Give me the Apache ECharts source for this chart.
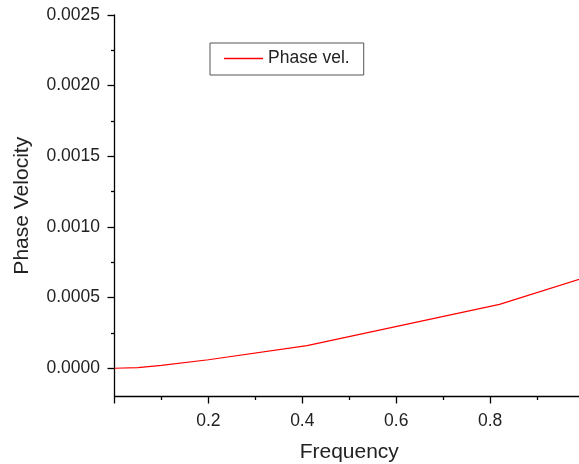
<!DOCTYPE html>
<html>
<head>
<meta charset="utf-8">
<script src="https://cdn.jsdelivr.net/npm/echarts@6/dist/echarts.min.js"></script>
<style>
  html, body { margin: 0; padding: 0; background: #fff; }
  #main { width: 579px; height: 464px; }
</style>
</head>
<body>
<div id="main"></div>
<script>
// 频率 / 相速度数据
var frequency = [0, 0.05, 0.1, 0.2, 0.41, 0.82, 1.0];
var phaseVel = [0, 0.000005, 0.00002, 0.00006, 0.00016, 0.000452, 0.00064];
var yMajorTicks = [0, 0.0005, 0.001, 0.0015, 0.002, 0.0025];
var yMinorTicks = [0.00025, 0.00075, 0.00125, 0.00175, 0.00225];

var chart = echarts.init(document.getElementById('main'));
var textColor = '#222';
var axisColor = '#000';

chart.setOption({
  animation: false,
  textStyle: { fontFamily: 'Liberation Sans, Arial, sans-serif' },
  grid: { left: 114.5, right: -5, top: 15, bottom: 67.5, outerBoundsMode: 'none', containLabel: false },
  legend: {
    left: 210,
    top: 43,
    orient: 'horizontal',
    icon: 'rect',
    borderColor: '#555',
    borderWidth: 1,
    padding: [6, 14, 7, 14],
    itemWidth: 39,
    itemHeight: 1.3,
    itemGap: 6,
    textStyle: { fontSize: 17.5, color: textColor, lineHeight: 19 },
    data: ['Phase vel.']
  },
  xAxis: {
    type: 'value',
    min: 0,
    max: 1,
    interval: 0.2,
    name: 'Frequency',
    nameLocation: 'middle',
    nameGap: 45,
    nameTextStyle: { fontSize: 21, color: textColor },
    axisLine: { show: true, onZero: false, lineStyle: { color: axisColor, width: 1.3 } },
    axisTick: { show: true, inside: false, length: 7, lineStyle: { color: axisColor, width: 1.3 } },
    minorTick: { show: true, splitNumber: 2, length: 3.5, lineStyle: { color: axisColor, width: 1.3 } },
    splitLine: { show: false },
    minorSplitLine: { show: false },
    axisLabel: {
      fontSize: 17.5,
      color: textColor,
      margin: 16,
      showMaxLabel: true,
      hideOverlap: false,
      formatter: function (v) { return v === 0 ? '' : String(+v.toFixed(1)); }
    }
  },
  yAxis: [
    {
      type: 'value',
      min: -0.0002,
      max: 0.0025,
      name: 'Phase Velocity',
      nameLocation: 'middle',
      nameGap: 82,
      nameTextStyle: { fontSize: 21, color: textColor },
      axisLine: { show: true, onZero: false, lineStyle: { color: axisColor, width: 1.3 } },
      axisTick: { show: true, inside: false, length: 7, customValues: yMajorTicks, lineStyle: { color: axisColor, width: 1.3 } },
      splitLine: { show: false },
      axisLabel: {
        fontSize: 17.5,
        color: textColor,
        margin: 14.5,
        customValues: yMajorTicks,
        formatter: function (v) { return v.toFixed(4); }
      }
    },
    {
      // 次刻度
      type: 'value',
      min: -0.0002,
      max: 0.0025,
      position: 'left',
      axisLine: { show: false },
      axisTick: { show: true, inside: false, length: 3.5, customValues: yMinorTicks, lineStyle: { color: axisColor, width: 1.3 } },
      axisLabel: { show: false },
      splitLine: { show: false }
    }
  ],
  series: [
    {
      name: 'Phase vel.',
      type: 'line',
      symbol: 'none',
      smooth: false,
      lineStyle: { color: '#ff0000', width: 1.2 },
      itemStyle: { color: '#ff0000' },
      data: frequency.map(function (f, i) { return [f, phaseVel[i]]; })
    }
  ]
});
</script>
</body>
</html>
